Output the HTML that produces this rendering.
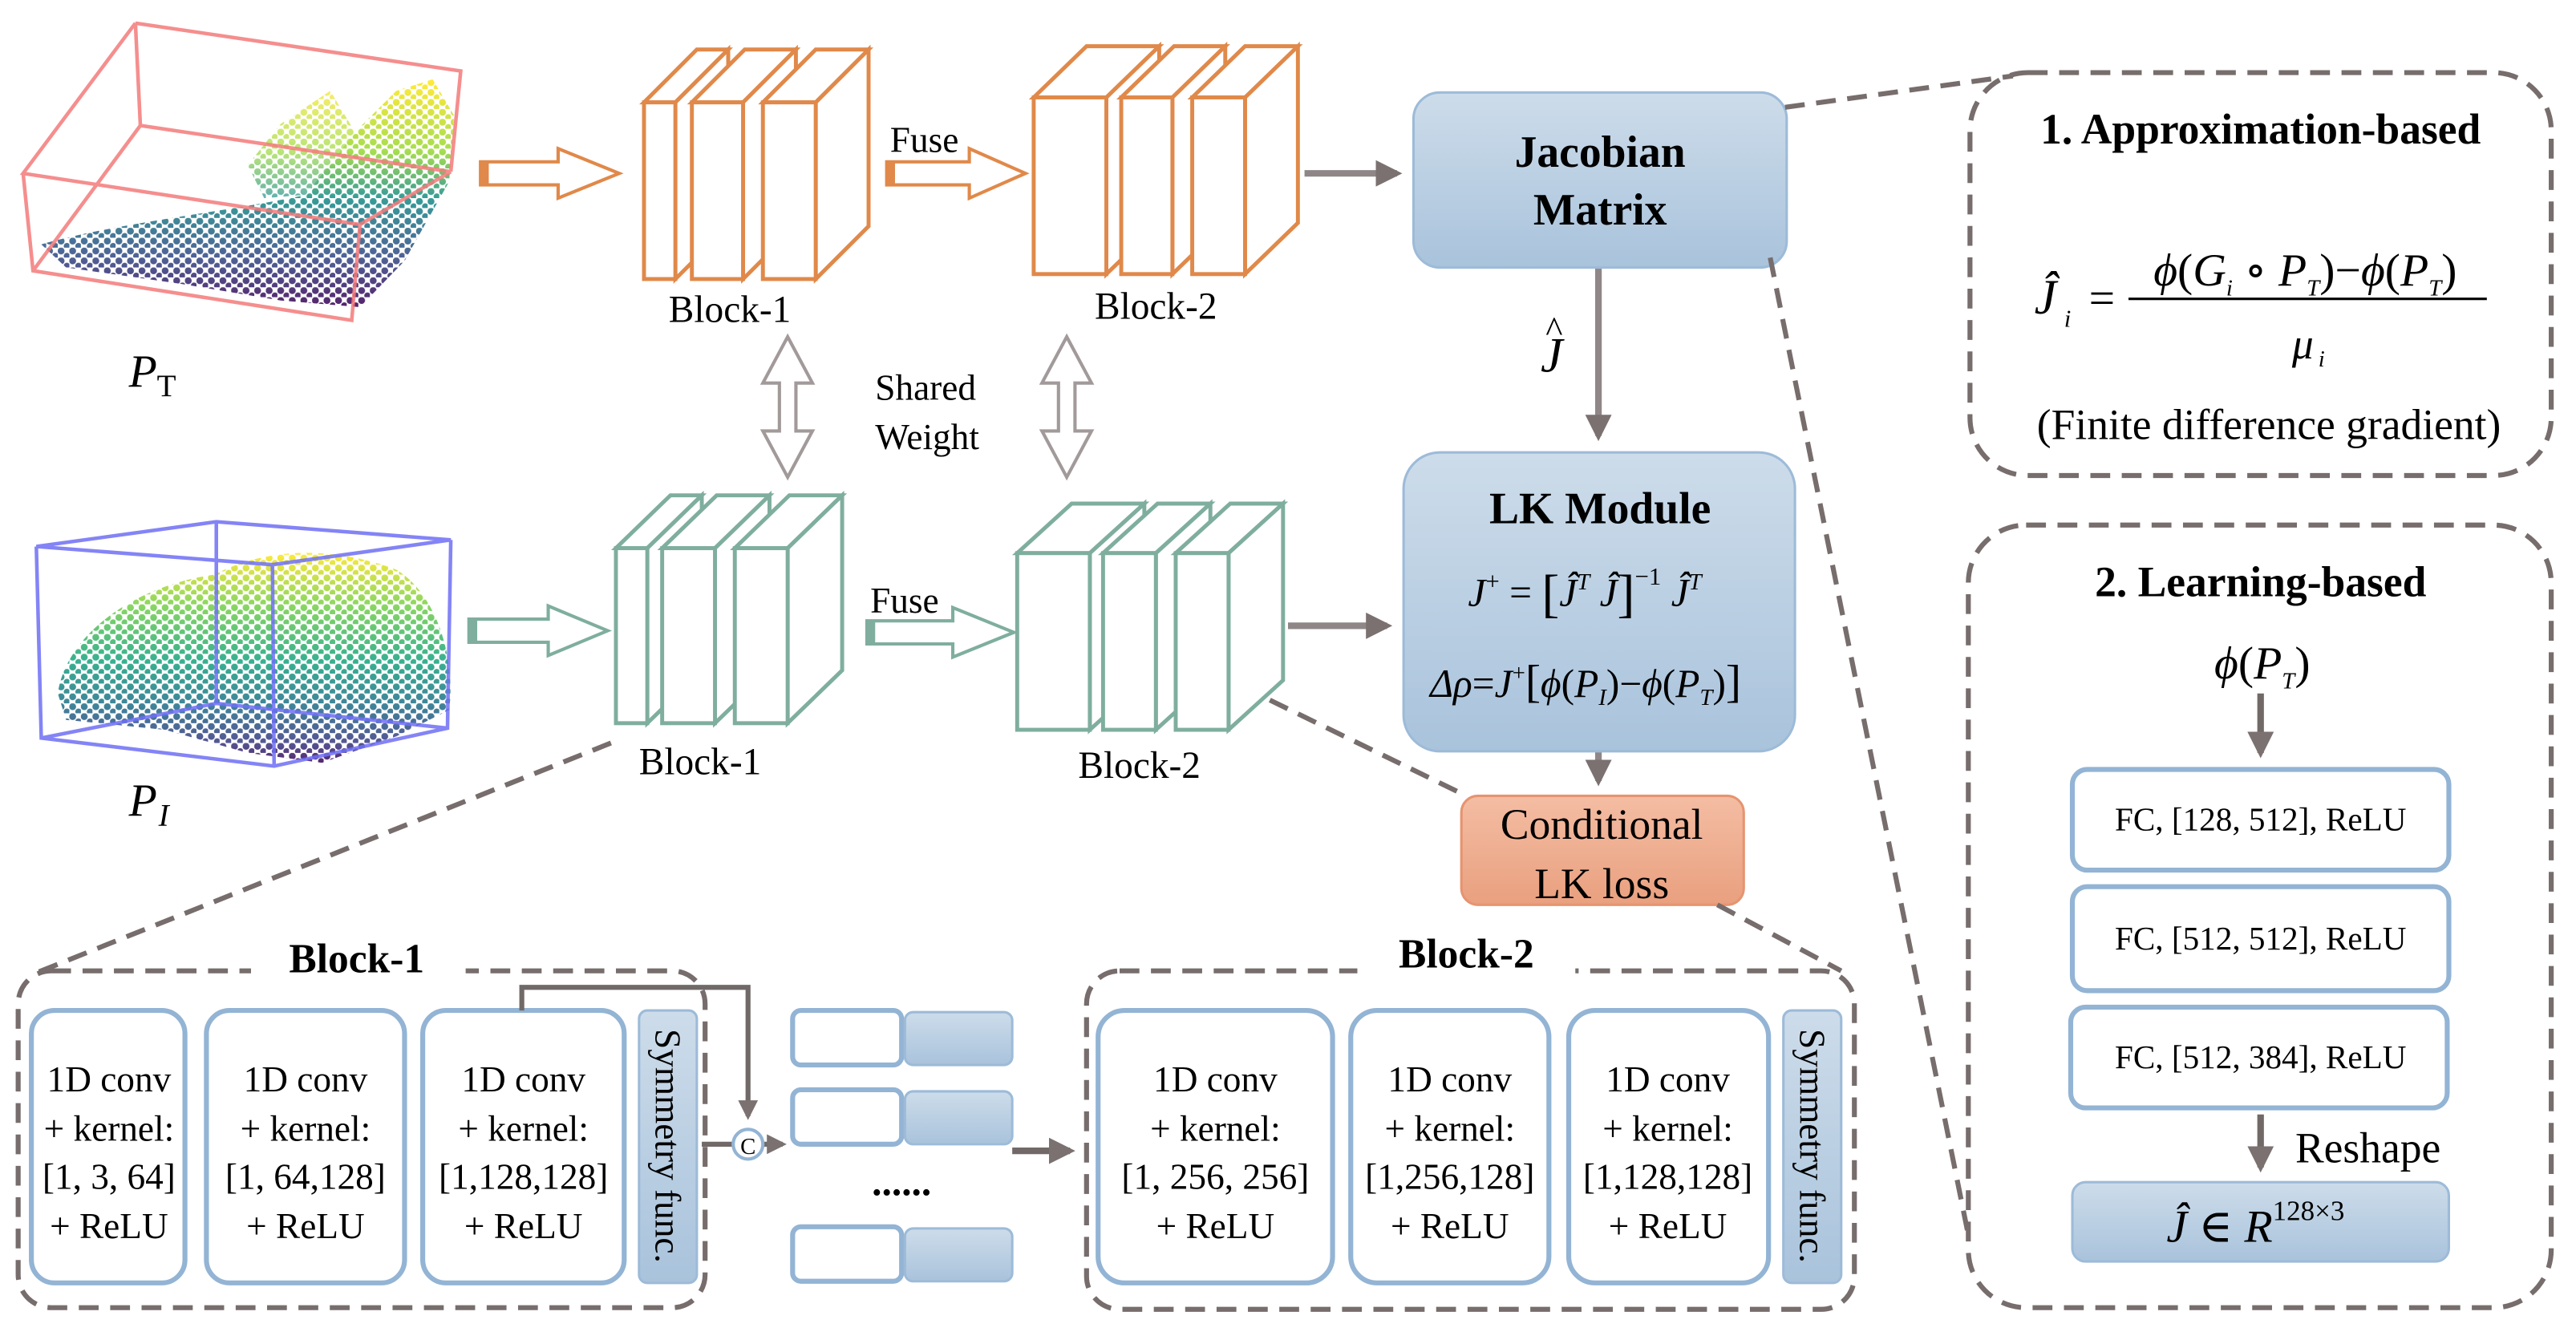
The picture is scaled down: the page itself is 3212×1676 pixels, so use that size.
<!DOCTYPE html>
<html><head><meta charset="utf-8"><style>
html,body{margin:0;padding:0;background:#fff;}
svg{display:block;}
text{font-family:"Liberation Serif","DejaVu Serif",serif;fill:#000;}
</style></head><body>
<svg xmlns="http://www.w3.org/2000/svg" width="3212" height="1676" viewBox="0 0 1560 814" preserveAspectRatio="none" font-family="Liberation Serif, serif">
<defs>
<linearGradient id="gb" x1="0" y1="0" x2="0" y2="1"><stop offset="0" stop-color="#cddcea"/><stop offset="1" stop-color="#a9c3dc"/></linearGradient>
<linearGradient id="go" x1="0" y1="0" x2="0" y2="1"><stop offset="0" stop-color="#f4bda3"/><stop offset="1" stop-color="#e9a07f"/></linearGradient>
<linearGradient id="v1" gradientUnits="userSpaceOnUse" x1="0" y1="50" x2="0" y2="190">
<stop offset="0" stop-color="#fde725"/><stop offset="0.3" stop-color="#9bd93c"/><stop offset="0.5" stop-color="#21918c"/><stop offset="0.75" stop-color="#3b528b"/><stop offset="1" stop-color="#440154"/></linearGradient>
<linearGradient id="v2" gradientUnits="userSpaceOnUse" x1="0" y1="335" x2="0" y2="465">
<stop offset="0" stop-color="#fde725"/><stop offset="0.25" stop-color="#7ad151"/><stop offset="0.5" stop-color="#22a884"/><stop offset="0.7" stop-color="#2a788e"/><stop offset="0.88" stop-color="#414487"/><stop offset="1" stop-color="#440154"/></linearGradient>
<pattern id="dp" width="7" height="6" patternUnits="userSpaceOnUse"><circle cx="2" cy="2" r="2.1" fill="#fff"/><circle cx="5.5" cy="5" r="1.9" fill="#fff"/></pattern>
<mask id="dm" maskUnits="userSpaceOnUse" x="0" y="0" width="300" height="500"><rect x="0" y="0" width="300" height="500" fill="url(#dp)"/></mask>
<marker id="ah" markerWidth="4" markerHeight="4" refX="3.2" refY="2" orient="auto" markerUnits="strokeWidth"><path d="M0,0 L4,2 L0,4 z" fill="#7a7170"/></marker>
</defs>
<!-- point clouds -->
<g mask="url(#dm)" fill-opacity="0.9">
<path fill="url(#v1)" d="M25,148 C70,135 140,128 185,118 L215,80 L240,55 L262,48 L275,70 L272,110 L245,158 L218,186 L170,182 L110,172 L40,162 Z"/>
<path fill="url(#v1)" d="M150,100 L170,75 L200,55 L215,80 L185,118 L160,120 Z" fill-opacity="0.7"/>
<path fill="url(#v2)" d="M35,420 C40,385 80,355 130,348 C160,332 200,330 240,345 C265,360 276,400 272,430 L240,446 L195,462 L150,456 L100,442 L40,436 Z"/>
</g>
<!-- point cloud boxes -->
<g fill="none" stroke="#f37a7a" stroke-width="2.2" stroke-opacity="0.85">
<path d="M82,14 L279,43 L273,104 M82,14 L14,105 L218,136 L273,104 M218,136 L213,194 L20,164 L14,105 M82,14 L85,76 L273,104 M85,76 L20,164"/>
</g>
<g fill="none" stroke="#6f6ff5" stroke-width="2.2" stroke-opacity="0.85">
<path d="M22,331 L131,316 L273,327 L165,342 Z M22,331 L25,447 L166,464 L271,441 L273,327 M165,342 L166,464 M131,316 L131,426 L25,447 M131,426 L271,441"/>
</g>
<!-- slabs -->
<g fill="#fff" stroke="#e0894a" stroke-width="2.4">
<polygon points="390,62 422,30 441,30 409,62"/><polygon points="409,62 441,30 441,137 409,169"/><rect x="390" y="62" width="19" height="107"/>
<polygon points="419,62 451,30 482,30 450,62"/><polygon points="450,62 482,30 482,137 450,169"/><rect x="419" y="62" width="31" height="107"/>
<polygon points="462,62 494,30 526,30 494,62"/><polygon points="494,62 526,30 526,137 494,169"/><rect x="462" y="62" width="32" height="107"/>
<polygon points="626,59 658,28 702,28 670,59"/><polygon points="670,59 702,28 702,135 670,166"/><rect x="626" y="59" width="44" height="107"/>
<polygon points="679,59 711,28 742,28 710,59"/><polygon points="710,59 742,28 742,135 710,166"/><rect x="679" y="59" width="31" height="107"/>
<polygon points="722,59 754,28 786,28 754,59"/><polygon points="754,59 786,28 786,135 754,166"/><rect x="722" y="59" width="32" height="107"/>
</g>
<g fill="#fff" stroke="#7fae9e" stroke-width="2.4">
<polygon points="373,332 406,300 425,300 392,332"/><polygon points="392,332 425,300 425,406 392,438"/><rect x="373" y="332" width="19" height="106"/>
<polygon points="401,332 434,300 466,300 433,332"/><polygon points="433,332 466,300 466,406 433,438"/><rect x="401" y="332" width="32" height="106"/>
<polygon points="445,332 478,300 510,300 477,332"/><polygon points="477,332 510,300 510,406 477,438"/><rect x="445" y="332" width="32" height="106"/>
<polygon points="616,335 649,305 693,305 660,335"/><polygon points="660,335 693,305 693,412 660,442"/><rect x="616" y="335" width="44" height="107"/>
<polygon points="668,335 701,305 733,305 700,335"/><polygon points="700,335 733,305 733,412 700,442"/><rect x="668" y="335" width="32" height="107"/>
<polygon points="712,335 745,305 777,305 744,335"/><polygon points="744,335 777,305 777,412 744,442"/><rect x="712" y="335" width="32" height="107"/>
</g>
<!-- hollow arrows -->
<g fill="#fff" stroke-width="2">
<polygon stroke="#e0894a" points="291,98 338,98 338,90 375,105 338,120 338,112 291,112"/>
<polygon stroke="#e0894a" points="537,98 587,98 587,90 621,105 587,120 587,112 537,112"/>
<polygon stroke="#7fae9e" points="284,375 332,375 332,367 368,382 332,397 332,389 284,389"/>
<polygon stroke="#7fae9e" points="525,376 577,376 577,368 614,383 577,398 577,390 525,390"/>
<polygon stroke="#a29a9a" points="477,204 492,232 482,232 482,261 492,261 477,289 462,261 472,261 472,232 462,232"/>
<polygon stroke="#a29a9a" points="646,204 661,232 651,232 651,261 661,261 646,289 631,261 641,261 641,232 631,232"/>
</g>
<rect x="291" y="98" width="5" height="14" fill="#e0894a"/>
<rect x="537" y="98" width="5" height="14" fill="#e0894a"/>
<rect x="284" y="375" width="5" height="14" fill="#7fae9e"/>
<rect x="525" y="376" width="5" height="14" fill="#7fae9e"/>
<!-- labels -->
<text x="78" y="234" font-size="28" font-style="italic">P</text><text x="95" y="240" font-size="19">T</text>
<text x="78" y="494" font-size="28" font-style="italic">P</text><text x="96" y="500" font-size="19" font-style="italic">I</text>
<text x="442" y="195" font-size="23" text-anchor="middle">Block-1</text>
<text x="700" y="193" font-size="23" text-anchor="middle">Block-2</text>
<text x="424" y="469" font-size="23" text-anchor="middle">Block-1</text>
<text x="690" y="471" font-size="23" text-anchor="middle">Block-2</text>
<text x="539" y="92" font-size="22">Fuse</text>
<text x="527" y="371" font-size="22">Fuse</text>
<text x="530" y="242" font-size="22">Shared</text>
<text x="530" y="272" font-size="22">Weight</text>
<!-- gray connectors -->
<g stroke="#8f8787" stroke-width="4" fill="none">
<line x1="790" y1="105" x2="846" y2="105" marker-end="url(#ah)"/>
<line x1="780" y1="379" x2="840" y2="379" marker-end="url(#ah)"/>
<line x1="968" y1="162" x2="968" y2="264" marker-end="url(#ah)"/>
<line x1="968" y1="455" x2="968" y2="473" marker-end="url(#ah)"/>
</g>
<!-- Jacobian -->
<rect x="856" y="56" width="226" height="106" rx="16" fill="url(#gb)" stroke="#9dbbd8" stroke-width="1.5"/>
<text x="969" y="101" font-size="27" font-weight="bold" text-anchor="middle">Jacobian</text>
<text x="969" y="136" font-size="27" font-weight="bold" text-anchor="middle">Matrix</text>
<text x="933" y="225" font-size="30" font-style="italic">J</text><text x="936" y="207" font-size="22">^</text>
<!-- LK -->
<rect x="850" y="274" width="237" height="181" rx="22" fill="url(#gb)" stroke="#9dbbd8" stroke-width="1.5"/>
<text x="969" y="317" font-size="27" font-weight="bold" text-anchor="middle">LK Module</text>
<text x="889" y="367" font-size="24"><tspan font-style="italic">J</tspan><tspan font-size="15" dy="-10">+</tspan><tspan dy="10"> = </tspan><tspan font-size="32" dy="3">[</tspan><tspan font-style="italic" dy="-3">Ĵ</tspan><tspan font-size="14" font-style="italic" dy="-10">T</tspan><tspan font-style="italic" dy="10"> Ĵ</tspan><tspan font-size="32" dy="3">]</tspan><tspan font-size="15" dy="-16">−1</tspan><tspan font-style="italic" dy="13"> Ĵ</tspan><tspan font-size="14" font-style="italic" dy="-10">T</tspan></text>
<text x="866" y="422" font-size="24"><tspan font-style="italic">Δρ</tspan>=<tspan font-style="italic">J</tspan><tspan font-size="14" dy="-10">+</tspan><tspan font-size="28" dy="10">[</tspan><tspan font-style="italic">ϕ</tspan>(<tspan font-style="italic">P</tspan><tspan font-size="14" font-style="italic" dy="5">I</tspan><tspan dy="-5">)−</tspan><tspan font-style="italic">ϕ</tspan>(<tspan font-style="italic">P</tspan><tspan font-size="14" font-style="italic" dy="5">T</tspan><tspan dy="-5">)</tspan><tspan font-size="28">]</tspan></text>
<!-- Conditional -->
<rect x="885" y="482" width="171" height="66" rx="10" fill="url(#go)" stroke="#e69470" stroke-width="1.5"/>
<text x="970" y="508" font-size="26" text-anchor="middle">Conditional</text>
<text x="970" y="544" font-size="26" text-anchor="middle">LK loss</text>
<!-- dashed zoom lines -->
<g stroke="#766d6c" stroke-width="3" stroke-dasharray="12,7" fill="none">
<line x1="1081" y1="65" x2="1219" y2="46"/>
<line x1="1072" y1="156" x2="1192" y2="748"/>
<line x1="370" y1="450" x2="20" y2="590"/>
<line x1="769" y1="424" x2="888" y2="482"/>
<line x1="1040" y1="548" x2="1115" y2="588"/>
<rect x="1193" y="44" width="352" height="244" rx="35"/>
<rect x="1192" y="318" width="353" height="474" rx="35"/>
<rect x="11" y="588" width="416" height="204" rx="20"/>
<rect x="658" y="588" width="465" height="205" rx="20"/>
</g>
<rect x="152" y="575" width="130" height="24" fill="#fff"/>
<rect x="822" y="570" width="132" height="28" fill="#fff"/>
<text x="216" y="589" font-size="25" font-weight="bold" text-anchor="middle">Block-1</text>
<text x="888" y="586" font-size="25" font-weight="bold" text-anchor="middle">Block-2</text>
<!-- panel 1 -->
<text x="1369" y="87" font-size="26" font-weight="bold" text-anchor="middle">1. Approximation-based</text>
<text x="1232" y="190" font-size="30" font-style="italic">Ĵ</text><text x="1250" y="198" font-size="15" font-style="italic">i</text>
<text x="1265" y="190" font-size="28">=</text>
<text x="1396" y="173" font-size="28" text-anchor="middle"><tspan font-style="italic">ϕ</tspan>(<tspan font-style="italic">G</tspan><tspan font-size="14" font-style="italic" dy="6">i</tspan><tspan dy="-6"> ∘ </tspan><tspan font-style="italic">P</tspan><tspan font-size="14" font-style="italic" dy="6">T</tspan><tspan dy="-6">)−</tspan><tspan font-style="italic">ϕ</tspan>(<tspan font-style="italic">P</tspan><tspan font-size="14" font-style="italic" dy="6">T</tspan><tspan dy="-6">)</tspan></text>
<line x1="1289" y1="181" x2="1506" y2="181" stroke="#000" stroke-width="1.5"/>
<text x="1388" y="217" font-size="26" font-style="italic">μ</text><text x="1404" y="222" font-size="14" font-style="italic">i</text>
<text x="1374" y="266" font-size="26" text-anchor="middle">(Finite difference gradient)</text>
<!-- panel 2 -->
<text x="1369" y="361" font-size="26" font-weight="bold" text-anchor="middle">2. Learning-based</text>
<text x="1370" y="411" font-size="28" text-anchor="middle"><tspan font-style="italic">ϕ</tspan>(<tspan font-style="italic">P</tspan><tspan font-size="14" font-style="italic" dy="6">T</tspan><tspan dy="-6">)</tspan></text>
<g stroke="#716968" stroke-width="4">
<line x1="1369" y1="420" x2="1369" y2="456" marker-end="url(#ah)"/>
<line x1="1369" y1="675" x2="1369" y2="707" marker-end="url(#ah)"/>
</g>
<g fill="#fff" stroke="#93b4d4" stroke-width="3">
<rect x="1255" y="466" width="228" height="61" rx="9"/>
<rect x="1255" y="537" width="228" height="63" rx="9"/>
<rect x="1254" y="610" width="228" height="61" rx="9"/>
</g>
<g font-size="20" text-anchor="middle">
<text x="1369" y="503">FC, [128, 512],  ReLU</text>
<text x="1369" y="575">FC, [512, 512],  ReLU</text>
<text x="1369" y="647">FC, [512, 384],  ReLU</text>
</g>
<text x="1390" y="704" font-size="26">Reshape</text>
<rect x="1255" y="716" width="228" height="48" rx="8" fill="url(#gb)" stroke="#9dbbd8" stroke-width="1.5"/>
<text x="1312" y="752" font-size="28"><tspan font-style="italic">Ĵ</tspan> ∈ <tspan font-style="italic">R</tspan><tspan font-size="17" dy="-13">128×3</tspan></text>
<!-- bottom blocks -->
<g fill="#fff" stroke="#93b4d4" stroke-width="3">
<rect x="19" y="612" width="93" height="165" rx="14"/>
<rect x="125" y="612" width="120" height="165" rx="14"/>
<rect x="256" y="612" width="122" height="165" rx="14"/>
<rect x="665" y="612" width="142" height="165" rx="16"/>
<rect x="818" y="612" width="120" height="165" rx="16"/>
<rect x="950" y="612" width="121" height="165" rx="16"/>
<rect x="480" y="612" width="66" height="33" rx="5"/>
<rect x="480" y="660" width="66" height="33" rx="5"/>
<rect x="480" y="743" width="66" height="33" rx="5"/>
</g>
<g fill="url(#gb)" stroke="#9dbbd8" stroke-width="1.5">
<rect x="387" y="612" width="35" height="165" rx="5"/>
<rect x="1080" y="612" width="35" height="165" rx="5"/>
<rect x="548" y="613" width="65" height="32" rx="5"/>
<rect x="548" y="661" width="65" height="32" rx="5"/>
<rect x="548" y="744" width="65" height="32" rx="5"/>
</g>
<g font-size="22" text-anchor="middle">
<text x="66" y="661">1D conv</text><text x="66" y="691">+ kernel:</text><text x="66" y="720">[1, 3, 64]</text><text x="66" y="750">+ ReLU</text>
<text x="185" y="661">1D conv</text><text x="185" y="691">+ kernel:</text><text x="185" y="720">[1, 64,128]</text><text x="185" y="750">+ ReLU</text>
<text x="317" y="661">1D conv</text><text x="317" y="691">+ kernel:</text><text x="317" y="720">[1,128,128]</text><text x="317" y="750">+ ReLU</text>
<text x="736" y="661">1D conv</text><text x="736" y="691">+ kernel:</text><text x="736" y="720">[1, 256, 256]</text><text x="736" y="750">+ ReLU</text>
<text x="878" y="661">1D conv</text><text x="878" y="691">+ kernel:</text><text x="878" y="720">[1,256,128]</text><text x="878" y="750">+ ReLU</text>
<text x="1010" y="661">1D conv</text><text x="1010" y="691">+ kernel:</text><text x="1010" y="720">[1,128,128]</text><text x="1010" y="750">+ ReLU</text>
</g>
<text transform="translate(397,694) rotate(90)" font-size="22" text-anchor="middle">Symmetry func.</text>
<text transform="translate(1090,694) rotate(90)" font-size="22" text-anchor="middle">Symmetry func.</text>
<text x="546" y="724" font-size="24" font-weight="bold" text-anchor="middle">......</text>
<g stroke="#716968" stroke-width="3" fill="none">
<polyline points="316,612 316,598 453,598 453,676" marker-end="url(#ah)"/>
<line x1="425" y1="693" x2="474" y2="693" marker-end="url(#ah)"/>
<line x1="613" y1="697" x2="648" y2="697" stroke-width="4" marker-end="url(#ah)"/>
</g>
<circle cx="453" cy="693" r="9" fill="#fff" stroke="#93b4d4" stroke-width="2"/>
<text x="453" y="699" font-size="14" text-anchor="middle">C</text>
</svg>
</body></html>
